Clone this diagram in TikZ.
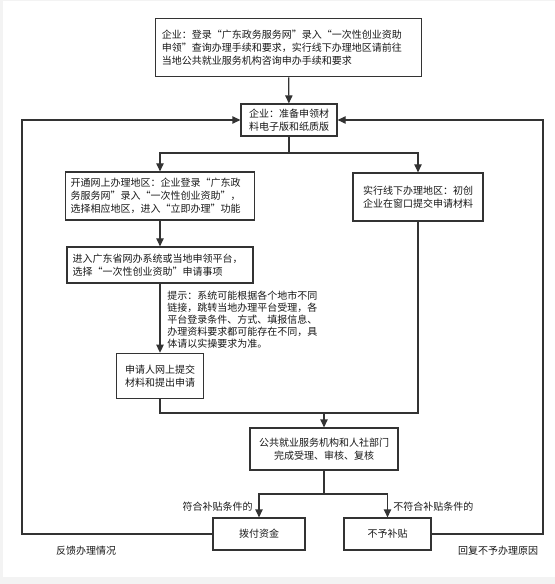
\documentclass[tikz,border=0pt]{standalone}
\usepackage{fontspec}
\setmainfont{Noto Sans CJK SC}
\usetikzlibrary{arrows.meta}
\definecolor{ln}{HTML}{333333}
\definecolor{bg}{HTML}{F3F3F3}
\tikzset{
  box/.style={draw=ln,line width=0.9pt,fill=white,inner sep=2pt,font=\fontsize{7.5pt}{9.75pt}\selectfont,text=black!90},
  lbl/.style={inner sep=0pt,font=\fontsize{7.5pt}{9.75pt}\selectfont,text=black!90},
  conn/.style={draw=ln,line width=0.9pt},
  arr/.style={conn,-{Triangle[length=6pt,width=5.5pt]}}
}
\begin{document}
\begin{tikzpicture}[x=0.75pt,y=-0.75pt]
\useasboundingbox (0,0) rectangle (555,584);
\fill[bg] (0,0) rectangle (555,584);
\fill[white] (3,1) rectangle (555,577);

\node[box,minimum width=200pt,minimum height=44pt,text width=190pt,align=left] (top) at (288.5,47.5)
  {企业：登录“广东政务服务网”录入“一次性创业资助\\申领”查询办理手续和要求，实行线下办理地区请前往\\当地公共就业服务机构咨询申办手续和要求};
\node[box,minimum width=72pt,minimum height=24pt,align=center] (prep) at (289,120)
  {企业：准备申领材\\料电子版和纸质版};
\node[box,minimum width=142pt,minimum height=36pt,text width=134pt,align=left] (online) at (160,196)
  {开通网上办理地区：企业登录“广东政\\务服务网”录入“一次性创业资助”，\\选择相应地区，进入“立即办理”功能};
\node[box,minimum width=97.5pt,minimum height=36pt,align=center] (offline) at (418,197)
  {实行线下办理地区：初创\\企业在窗口提交申请材料};
\node[box,minimum width=139.5pt,minimum height=27pt,text width=131pt,align=left] (platform) at (160,265)
  {进入广东省网办系统或当地申领平台，\\选择“一次性创业资助”申请事项};
\node[lbl,anchor=north west,align=left,font=\fontsize{7.5pt}{9pt}\selectfont] (hint) at (167,291)
  {提示：系统可能根据各个地市不同\\链接，跳转当地办理平台受理，各\\平台登录条件、方式、填报信息、\\办理资料要求都可能存在不同，具\\体请以实操要求为准。};
\node[box,minimum width=65.5pt,minimum height=34pt,align=center] (submit) at (160,376)
  {申请人网上提交\\材料和提出申请};
\node[box,minimum width=111pt,minimum height=31.5pt,align=center] (review) at (324,449)
  {公共就业服务机构和人社部门\\完成受理、审核、复核};
\node[box,minimum width=69pt,minimum height=24pt] (pay) at (259,534) {拨付资金};
\node[box,minimum width=65.25pt,minimum height=24pt] (deny) at (387.5,534) {不予补贴};

\node[lbl,anchor=east] (yes) at (253,507) {符合补贴条件的};
\node[lbl,anchor=west] (no) at (393,507) {不符合补贴条件的};
\node[lbl] (fb) at (86,551) {反馈办理情况};
\node[lbl] (rp) at (498,551) {回复不予办理原因};

\coordinate (split) at (289,153);
\coordinate (merge) at (324,413);
\coordinate (fork) at (324,494);
\coordinate (lx) at (22,0);
\coordinate (rx) at (543,0);

\draw[arr] (top) -- (prep);
\draw[conn] (prep) -- (split);
\draw[arr] (split) -| (online.north);
\draw[arr] (split) -| (offline.north);
\draw[arr] (online) -- (platform);
\draw[arr] (platform) -- (submit);
\draw[conn] (submit.south) |- (merge);
\draw[conn] (offline.south) |- (merge);
\draw[arr] (merge) -- (review);
\draw[conn] (review) -- (fork);
\draw[arr] (fork) -| (pay.north);
\draw[arr] (fork) -| (deny.north);
\draw[arr] (pay.west) -- (lx |- pay.west) -- (lx |- prep.west) -- (prep.west);
\draw[arr] (deny.east) -- (rx |- deny.east) -- (rx |- prep.east) -- (prep.east);
\end{tikzpicture}
\end{document}
